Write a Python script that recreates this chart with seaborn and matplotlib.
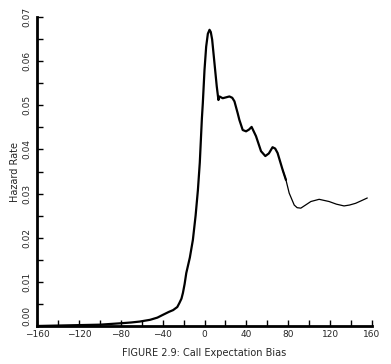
import matplotlib
matplotlib.use("Agg")
import matplotlib.pyplot as plt
import seaborn as sns
import numpy as np
import pandas as pd
from matplotlib.ticker import MultipleLocator

# Data
bias = [-160, -140, -120, -100, -81, -70, -62, -52, -45, -40, -34, -30, -26, -24, -22, -20.6, -19, -17.4,
        -14, -11.1, -8.5, -6.3, -4.5, -2.5, -1.6, 0, 1.6, 3.2, 4.8,
        6.0, 7.3, 9.5, 11.7, 13.3, 14.3, 17.4, 20.6, 23.8, 26.5, 28.6, 31.7, 33.3, 36.5, 39.7, 42.5, 45,
        49.2, 54, 58.1, 61.5, 65, 67.5, 69.8, 74.6, 77.8, 80.9, 85.7, 88.5, 92, 96.5, 101.6, 109.5,
        119, 126, 133.3, 138.5, 144.4, 150, 155.5]
hazard = [0.0, 0.0001, 0.0002, 0.0003, 0.0006, 0.0008, 0.001, 0.0014, 0.0019, 0.0025, 0.0032, 0.0036,
          0.0043, 0.0052, 0.0062, 0.0075, 0.0095, 0.012,
          0.0155, 0.0195, 0.025, 0.0308, 0.037, 0.047, 0.0505, 0.058, 0.0633, 0.0662, 0.0671,
          0.0666, 0.0649, 0.0596, 0.0543, 0.0512, 0.052, 0.0516, 0.0518, 0.052, 0.0517, 0.0509, 0.0482,
          0.0467, 0.0444, 0.0441, 0.0445, 0.0451,
          0.043, 0.0396, 0.0385, 0.0391, 0.0405, 0.0402, 0.0392, 0.0354, 0.0331, 0.0301, 0.0274, 0.0268,
          0.0267, 0.0274, 0.0282, 0.0287, 0.0282, 0.0276, 0.0272, 0.0274, 0.0278, 0.0284, 0.029]

xticks = [-160, -120, -80, -40, 0, 40, 80, 120, 160]
yticks = [0.00, 0.01, 0.02, 0.03, 0.04, 0.05, 0.06, 0.07]

df = pd.DataFrame({"bias": bias, "hazard": hazard})

sns.set_style("white")
plt.rcParams["font.family"] = ["DejaVu Sans"]

fig = plt.figure(figsize=(3.91, 3.64), dpi=100)
ax = fig.add_axes([37/391, 1-326/364, (372-37)/391, (326-17)/364])

bold = df[df["bias"] <= 78]
thin = df[df["bias"] >= 74]
sns.lineplot(data=bold, x="bias", y="hazard", ax=ax, color="black", linewidth=1.6, sort=True,
             solid_joinstyle="round", solid_capstyle="round")
sns.lineplot(data=thin, x="bias", y="hazard", ax=ax, color="black", linewidth=0.9, sort=True,
             solid_joinstyle="round", solid_capstyle="round")

ax.set_xlim(-160, 160)
ax.set_ylim(0, 0.07)
ax.set_xticks(xticks)
ax.set_xticklabels([f"{t}".replace("-", "\u2212") for t in xticks], fontsize=6.5)
ax.set_yticks(yticks)
ax.set_yticklabels([f"{t:.2f}" for t in yticks], fontsize=6.5, rotation=90, va="center")
ax.get_yticklabels()[0].set_va("bottom")
ax.xaxis.set_minor_locator(MultipleLocator(20))
ax.yaxis.set_minor_locator(MultipleLocator(0.005))
ax.tick_params(which="both", direction="in", length=4, width=1, color="black", left=True, bottom=True, pad=3)
ax.tick_params(axis="y", pad=4)

for s in ["top", "right"]:
    ax.spines[s].set_visible(False)
for s in ["left", "bottom"]:
    ax.spines[s].set_linewidth(2)
    ax.spines[s].set_color("black")

ax.set_ylabel("Hazard Rate", fontsize=7, labelpad=2)
ax.set_xlabel("FIGURE 2.9: Call Expectation Bias", fontsize=7, labelpad=6)

fig.savefig("out.png", dpi=100)
